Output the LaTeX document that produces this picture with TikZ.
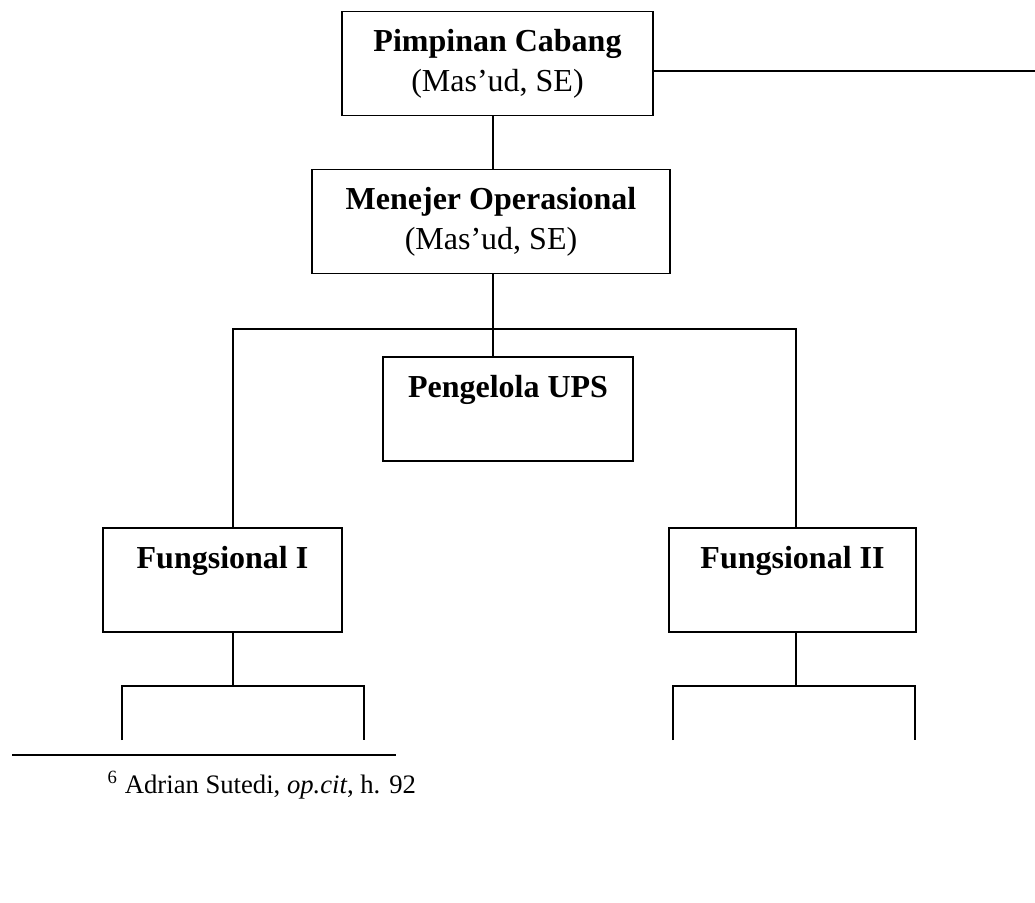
\documentclass[tikz,border=0pt]{standalone}
\usepackage{fontspec}
\setmainfont{Liberation Serif}
\begin{document}
\begin{tikzpicture}[
  x=0.375pt, y=-0.375pt,
  kotak/.style={draw, line width=0.6pt, align=center, inner sep=0pt, minimum height=39pt, font=\fontsize{12}{15}\selectfont},
  garis/.style={line width=0.6pt}
]
\useasboundingbox (0,0) rectangle (1035,902);
\node[kotak, minimum width=116.6pt] (pimpinan) at (497.5,63.5) {\textbf{Pimpinan Cabang}\strut\\(Mas’ud, SE)\strut};
\node[kotak, minimum width=134.3pt] (menejer) at (491,221.5) {\textbf{Menejer Operasional}\strut\\(Mas’ud, SE)\strut};
\node[kotak, minimum width=93.8pt] (ups) at (508,409) {\textbf{Pengelola UPS}\strut\\\strut};
\node[kotak, minimum width=89.6pt] (fung1) at (222.5,580) {\textbf{Fungsional I}\strut\\\strut};
\node[kotak, minimum width=92.6pt] (fung2) at (792.5,580) {\textbf{Fungsional II}\strut\\\strut};
\coordinate (tepi) at (1035,71);
\coordinate (pusat) at (493,329);
\coordinate (kiri) at (233,329);
\coordinate (kanan) at (796,329);
\coordinate (cabang1) at (233,686);
\coordinate (cabang2) at (796,686);
\coordinate (ujung1a) at (122,740);
\coordinate (ujung1b) at (364,740);
\coordinate (ujung2a) at (673,740);
\coordinate (ujung2b) at (915,740);
\draw[garis] (tepi -| pimpinan.east) -- (tepi);
\draw[garis] (pusat |- pimpinan.south) -- (pusat |- menejer.north);
\draw[garis] (pusat |- menejer.south) -- (pusat |- ups.north);
\draw[garis] (kiri |- fung1.north) -- (kiri) -- (kanan) -- (kanan |- fung2.north);
\draw[garis] (cabang1 |- fung1.south) -- (cabang1);
\draw[garis] (ujung1a) -- (ujung1a |- cabang1) -- (ujung1b |- cabang1) -- (ujung1b);
\draw[garis] (cabang2 |- fung2.south) -- (cabang2);
\draw[garis] (ujung2a) -- (ujung2a |- cabang2) -- (ujung2b |- cabang2) -- (ujung2b);
% footnote
\draw[garis] (12,755) -- (396,755);
\node[anchor=base west, inner sep=0pt, font=\fontsize{10}{12}\selectfont] (catatan) at (107,793) {\textsuperscript{6} Adrian Sutedi, \textit{op.cit}, h. 92};
\end{tikzpicture}
\end{document}
